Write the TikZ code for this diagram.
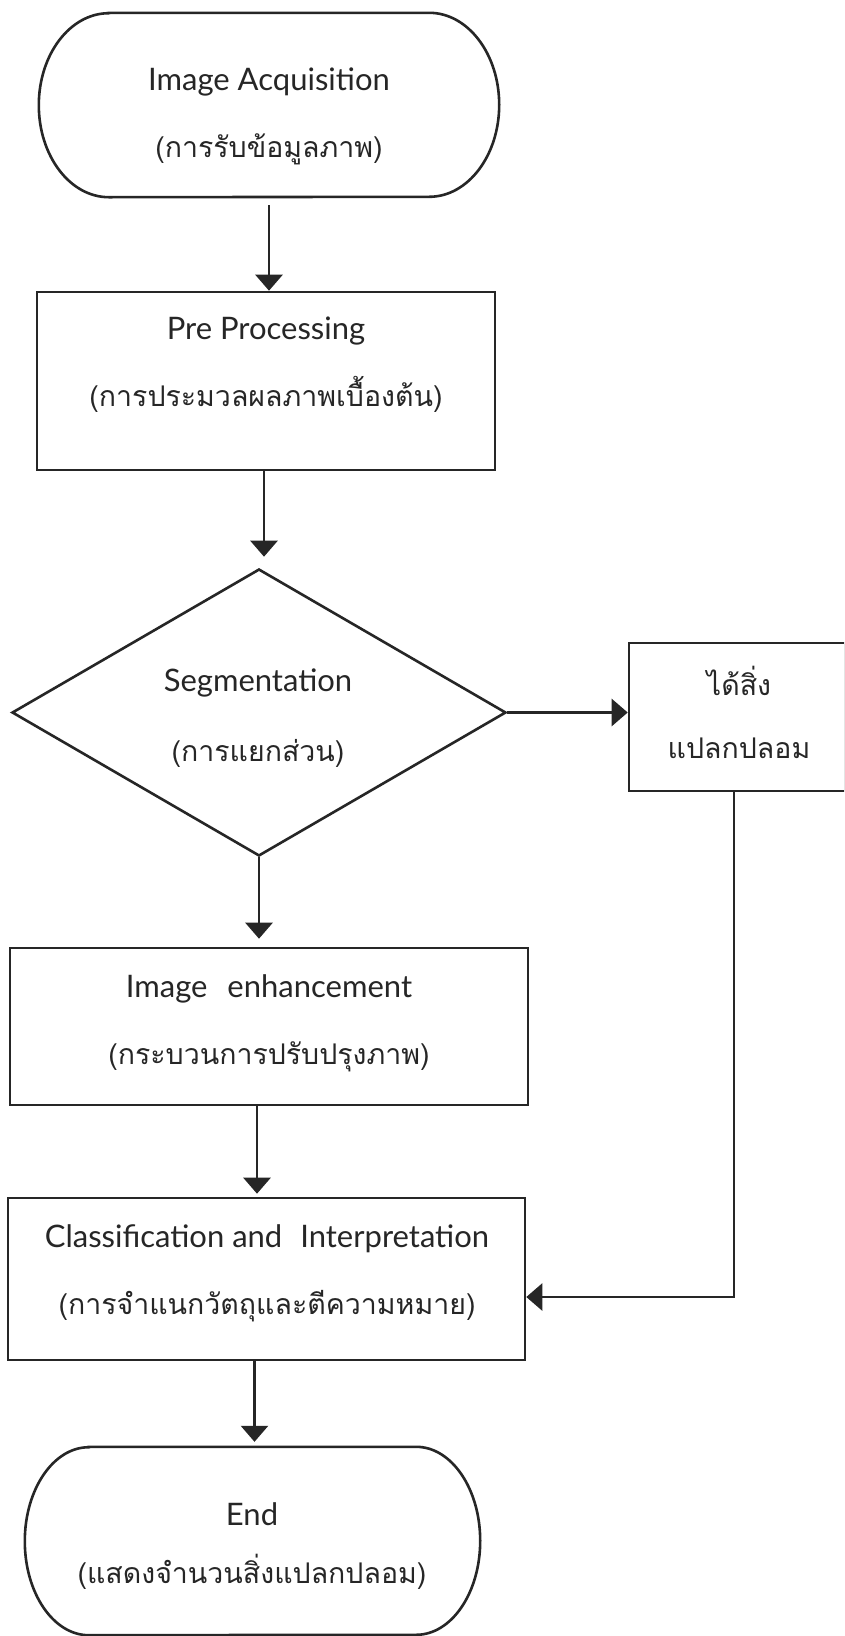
\documentclass[tikz,border=0pt]{standalone}
\usepackage{fontspec}
\setmainfont{Lato}
\newfontfamily\thai[Script=Thai]{Loma}
\newcommand\thl{\thai\fontsize{28.5}{\baselineskip}\selectfont}
\usetikzlibrary{arrows.meta,shapes.geometric,calc}
\definecolor{ink}{HTML}{262626}
\tikzset{
  x=1pt,y=1pt,
  line/.style={draw=ink,line width=2.6pt},
  boxshape/.style={line,rectangle,inner sep=0pt},
  termshape/.style={rectangle,inner sep=0pt},
  decision/.style={line,diamond,inner sep=0pt},
  lbl/.style={align=center,text=ink,inner sep=0pt,font=\fontsize{31}{67}\selectfont},
  conn/.style={draw=ink,line width=2.6pt,-{Triangle[width=27pt,length=16pt]}},
}
\begin{document}
\begin{tikzpicture}
\clip (0,0) rectangle (844,-1636);
\fill[white] (0,0) rectangle (844,-1636);

% shapes
\node[termshape,minimum width=460pt,minimum height=184pt] (start) at (269,-105) {};
\draw[line] ([xshift=70pt]start.north west) -- ([xshift=-70pt]start.north east)
  arc[start angle=90,end angle=-90,x radius=70pt,y radius=92pt]
  -- ([xshift=70pt]start.south west)
  arc[start angle=270,end angle=90,x radius=70pt,y radius=92pt] -- cycle;

\node[boxshape,minimum width=458pt,minimum height=178pt] (pre) at (266,-381) {};
\node[decision,minimum width=494pt,minimum height=287pt] (seg) at (259,-712.5) {};
\node[boxshape,minimum width=216pt,minimum height=148pt] (side) at (737,-717) {};
\node[boxshape,minimum width=518pt,minimum height=157pt] (enh) at (269,-1026.5) {};
\node[boxshape,minimum width=517pt,minimum height=162pt] (cls) at (266.5,-1279) {};

\node[termshape,minimum width=455pt,minimum height=188pt] (end) at (252.5,-1541) {};
\draw[line] ([xshift=64pt]end.north west) -- ([xshift=-64pt]end.north east)
  arc[start angle=90,end angle=-90,x radius=64pt,y radius=94pt]
  -- ([xshift=64pt]end.south west)
  arc[start angle=270,end angle=90,x radius=64pt,y radius=94pt] -- cycle;

% labels
\node[lbl] (start-t) at (269,-116) {Image Acquisition\\\thl (การรับข้อมูลภาพ)};
\node[lbl] (pre-t) at (266,-365) {Pre Processing\\\thl (การประมวลผลภาพเบื้องต้น)};
\node[lbl,font=\fontsize{31}{70}\selectfont] (seg-t) at (258,-718) {Segmentation\\\thl (การแยกส่วน)};
\node[lbl,font=\fontsize{31}{63}\selectfont\thl] (side-t) at (739,-712) {ได้สิ่ง\\แปลกปลอม};
\node[lbl] (enh-t) at (269,-1023) {Image\hspace{20pt}enhancement\\\thl (กระบวนการปรับปรุงภาพ)};
\node[lbl] (cls-t) at (267,-1273) {Classification and\hspace{18pt}Interpretation\\\thl (การจำแนกวัตถุและตีความหมาย)};
\node[lbl,font=\fontsize{31}{58}\selectfont] (end-t) at (252,-1546) {End\\\thl (แสดงจำนวนสิ่งแปลกปลอม)};

% connectors
\draw[conn,shorten <=8pt] (start.south) -- (start.south |- pre.north);
\draw[conn,shorten >=11pt] ([xshift=-2pt]pre.south) -- ([xshift=-2pt]pre.south |- seg.north);
\draw[conn] (seg.east) -- (seg.east -| side.west);
\draw[conn,shorten >=8pt] (seg.south) -- (seg.south |- enh.north);
\draw[conn,shorten >=3pt] ([xshift=-12pt]enh.south) -- ([xshift=-12pt]enh.south |- cls.north);
\draw[conn,shorten >=5pt] ([xshift=-12pt]cls.south) -- ([xshift=-12pt]cls.south |- end.north);
\draw[conn] ([xshift=-3pt]side.south) |- ([yshift=-18pt]cls.east);
\end{tikzpicture}
\end{document}
